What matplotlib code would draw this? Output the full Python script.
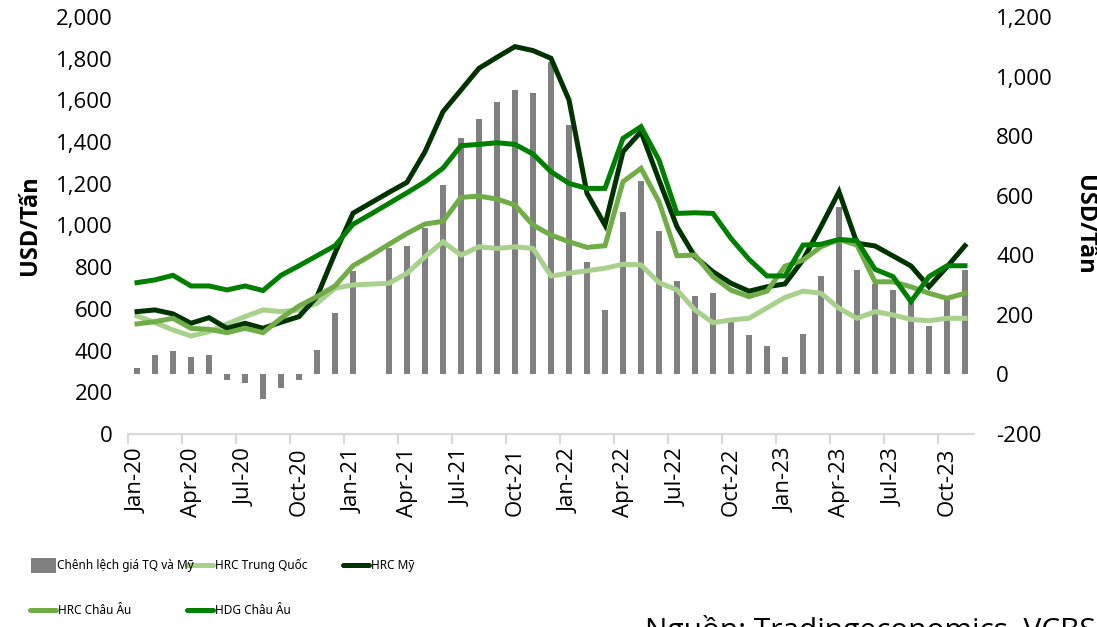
import numpy as np
import pandas as pd
import matplotlib
matplotlib.use('Agg')
import matplotlib.pyplot as plt
from matplotlib.lines import Line2D
from matplotlib.patches import Rectangle
from matplotlib.ticker import FuncFormatter, FixedLocator

# --- Data (USD/tan), Jan-20 .. Nov-23 ---
months = pd.date_range("2020-01-01", periods=47, freq="MS")
tick_labels = ["Jan-20", "Apr-20", "Jul-20", "Oct-20", "Jan-21", "Apr-21", "Jul-21", "Oct-21",
               "Jan-22", "Apr-22", "Jul-22", "Oct-22", "Jan-23", "Apr-23", "Jul-23", "Oct-23"]

spread = [21, 66, 77, 59, 66, -18, -28, -83, -46, -18, 81, 207, 347, np.nan, 424, 432,
          491, 637, 795, 859, 915, 955, 946, 1050, 838, 376, 216, 545, 651, 480, 312, 262,
          274, 178, 131, 94, 58, 135, 332, 561, 351, 305, 282, 245, 161, 250, 351]
hrc_cn = [566, 534, 499, 470, 491, 528, 563, 595, 587, 595, 627, 699, 715, np.nan, 723, 771,
          850, 922, 858, 898, 890, 898, 890, 758, 771, 783, 795, 814, 811, 726, 691, 595,
          534, 547, 555, 605, 655, 685, 675, 603, 555, 587, 571, 550, 543, 555, 555]
hrc_us = [587, 595, 576, 531, 558, 507, 531, 507, 536, 563, 659, 867, 1059, 1109, 1159, 1207,
          1354, 1546, 1650, 1754, 1807, 1858, 1839, 1802, 1602, 1154, 1002, 1354, 1450, 1218, 994, 850,
          778, 723, 685, 706, 720, 835, 995, 1162, 915, 902, 854, 806, 706, 802, 903]
hrc_eu = [528, 539, 555, 507, 502, 486, 507, 486, 555, 614, 659, 710, 807, 857, 910, 962,
          1007, 1020, 1135, 1141, 1127, 1098, 1002, 954, 922, 895, 903, 1210, 1274, 1114, 855, 858,
          754, 690, 659, 685, 805, 834, 898, 933, 906, 730, 730, 706, 675, 651, 675]
hdg_eu = [726, 739, 761, 710, 710, 691, 710, 688, 761, 807, 855, 903, 1006, 1055, 1106, 1157,
          1210, 1275, 1383, 1389, 1397, 1389, 1343, 1258, 1202, 1178, 1178, 1418, 1474, 1314, 1058, 1061,
          1058, 938, 838, 758, 758, 906, 910, 933, 927, 790, 755, 635, 755, 807, 807]

C_BAR = "#808080"
C_CN = "#A9D18E"
C_US = "#003300"
C_EU = "#70AD47"
C_HDG = "#008000"

plt.rcParams['font.family'] = ['Open Sans', 'DejaVu Sans']

W, H = 1097, 627
fig = plt.figure(figsize=(W / 100, H / 100), dpi=100)


def px(x, y):
    return x / W, 1 - y / H


ax = fig.add_axes([128 / W, 1 - 434 / H, (974 - 128) / W, (434 - 17) / H])
ax2 = ax.twinx()

x = np.arange(len(months))
ax2.bar(x, spread, width=0.3, color=C_BAR)

lw = 3.6
cn = np.array(hrc_cn, dtype=float)
ok = ~np.isnan(cn)
ax.plot(x[ok], cn[ok], color=C_CN, lw=lw, solid_joinstyle='miter')
ax.plot(x, hrc_us, color=C_US, lw=lw, solid_joinstyle='miter')
ax.plot(x, hrc_eu, color=C_EU, lw=lw, solid_joinstyle='miter')
ax.plot(x, hdg_eu, color=C_HDG, lw=lw, solid_joinstyle='miter')

ax.set_zorder(ax2.get_zorder() + 1)
ax.patch.set_visible(False)

ax.set_xlim(-0.5, len(months) - 0.5)
ax.set_ylim(0, 2000)
ax2.set_ylim(-200, 1200)

fmt = FuncFormatter(lambda v, _: f"{v:,.0f}")
ax.yaxis.set_major_locator(FixedLocator(np.arange(0, 2001, 200)))
ax2.yaxis.set_major_locator(FixedLocator(np.arange(-200, 1201, 200)))
ax.yaxis.set_major_formatter(fmt)
ax2.yaxis.set_major_formatter(fmt)
ax.tick_params(axis='y', length=0, pad=11, labelsize=16)
ax2.tick_params(axis='y', length=0, pad=16, labelsize=16)

ax.set_xticks(np.arange(0, len(months), 3))
ax.set_xticklabels(tick_labels, rotation=90)
ax.set_xticks(np.arange(-0.5, len(months) - 1, 3), minor=True)
ax.tick_params(axis='x', which='major', length=0, pad=10, labelsize=16)
ax.tick_params(axis='x', which='minor', length=7, width=1.5, color='#D9D9D9')

for s in ax.spines.values():
    s.set_visible(False)
for s in ax2.spines.values():
    s.set_visible(False)
ax.spines['bottom'].set_visible(True)
ax.spines['bottom'].set_color('#D9D9D9')
ax.spines['bottom'].set_linewidth(1.5)

fig.text(*px(30, 225), "USD/Tấn", rotation=90, ha='center', va='center',
         fontsize=17, fontweight='bold')
fig.text(*px(1084, 225), "USD/Tấn", rotation=270, ha='center', va='center',
         fontsize=17, fontweight='bold')

# --- legend (narrow text, as in the source image) ---
leg_font = dict(fontsize=8.5, fontstretch='extra-condensed',
                family=['Noto Sans ExtraCondensed', 'Noto Sans Condensed', 'DejaVu Sans Condensed',
                        'Noto Sans', 'DejaVu Sans'],
                va='center', ha='left')
x0, y0 = px(31, 573)
x1, y1 = px(56, 558)
fig.add_artist(Rectangle((x0, y0), x1 - x0, y1 - y0, transform=fig.transFigure,
                         color=C_BAR, lw=0))
fig.text(*px(57, 565), "Chênh lệch giá TQ và Mỹ", **leg_font)

entries = [(187, 565, C_CN, "HRC Trung Quốc"),
           (343, 565, C_US, "HRC Mỹ"),
           (30, 610, C_EU, "HRC Châu Âu"),
           (187, 610, C_HDG, "HDG Châu Âu")]
for lx, ly, col, lab in entries:
    xa, ya = px(lx, ly)
    xb, _ = px(lx + 26, ly)
    fig.add_artist(Line2D([xa, xb], [ya, ya], transform=fig.transFigure,
                          color=col, lw=3.6, solid_capstyle='round'))
    fig.text(*px(lx + 28, ly), lab, **leg_font)

fig.text(*px(645, 639), "Nguồn: Tradingeconomics, VCBS", ha='left', va='baseline', fontsize=21.5)

fig.savefig("out.png", dpi=100)
